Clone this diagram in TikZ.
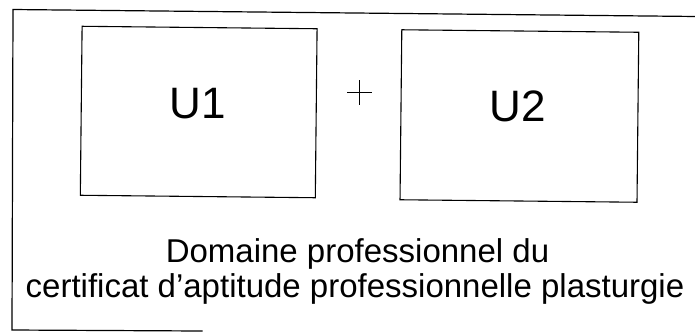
\documentclass[tikz,border=0pt]{standalone}
\usepackage{fontspec}
\setmainfont{Liberation Sans}
\tikzset{
  frameline/.style={line width=1.2pt, line cap=rect},
  unitbox/.style={draw, line width=1.1pt, minimum width=235pt, minimum height=169pt, inner sep=0pt, rotate=-0.6},
  unitlabel/.style={font=\fontsize{44}{50}\selectfont, anchor=base, inner sep=0pt},
  plusline/.style={line width=1pt},
  caption/.style={font=\fontsize{33}{35}\selectfont, anchor=base, inner sep=0pt}
}
\begin{document}
\begin{tikzpicture}[x=1pt,y=-1pt]
\useasboundingbox[fill=white] (0,0) rectangle (695,333);
% outer frame (partly visible)
\coordinate (fbr) at (202,331);
\coordinate (fbl) at (12,330);
\coordinate (ftl) at (13,9.5);
\coordinate (ftr) at (697,16.5);
\draw[frameline] (fbr) -- (fbl) -- (ftl) -- (ftr);
% unit boxes
\node[unitbox] (u1) at (198.7,112) {};
\node[unitbox, minimum width=237pt, minimum height=170pt] (u2) at (519.4,116) {};
\node[unitlabel] (u1t) at (198,118) {U1};
\node[unitlabel] (u2t) at (518,121.5) {U2};
% plus sign
\coordinate (plus) at (359.5,92.5);
\coordinate (plusL) at (347,92.5);
\coordinate (plusR) at (372,92.5);
\coordinate (plusT) at (359.5,80);
\coordinate (plusB) at (359.5,105);
\draw[plusline] (plusL) -- (plusR);
\draw[plusline] (plusT) -- (plusB);
% caption
\node[caption] (cap1) at (357.5,262.5) {Domaine professionnel du};
\node[caption] (cap2) at (355,297) {certificat d’aptitude professionnelle plasturgie};
\end{tikzpicture}
\end{document}
